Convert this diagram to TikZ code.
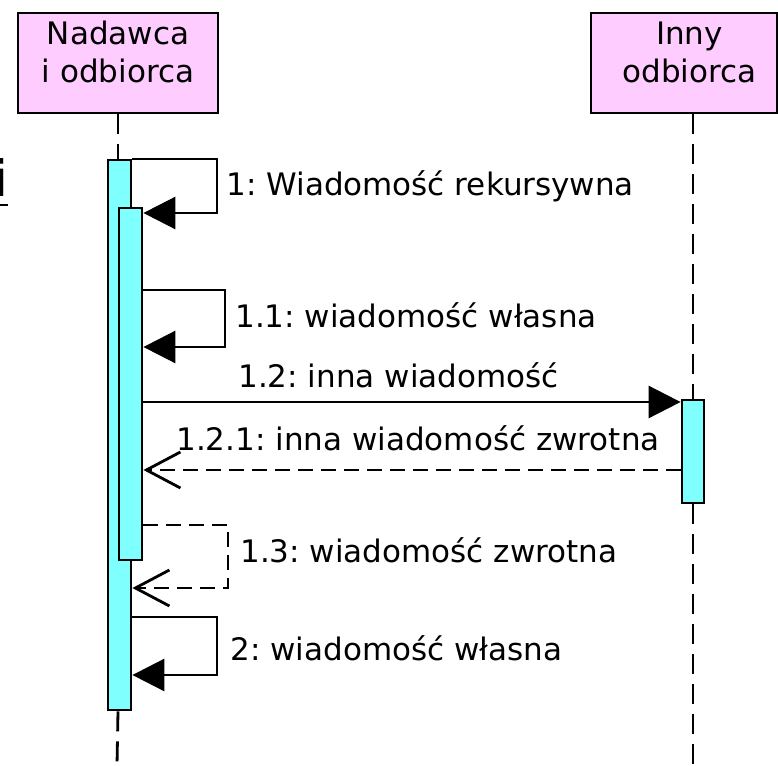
\documentclass[tikz,border=0pt]{standalone}
\usepackage{fontspec}
\setmainfont{DejaVu Sans}
\usetikzlibrary{arrows.meta}
\definecolor{headpink}{HTML}{FFCCFF}
\definecolor{actcyan}{HTML}{80FFFF}
\frenchspacing
\begin{document}
\begin{tikzpicture}[x=1pt,y=-1pt,
  line width=2.8pt,
  every node/.style={font=\fontsize{31}{38}\selectfont},
  headbox/.style={draw, fill=headpink, minimum width=200pt, minimum height=100pt, inner sep=0pt},
  headtext/.style={align=center, inner sep=0pt, anchor=base},
  lifeline/.style={dash pattern=on 20pt off 10pt},
  actbar/.style={draw, fill=actcyan, inner sep=0pt, minimum width=23pt},
  sync/.style={-{Triangle[length=32pt,width=32pt]}},
  reply/.style={dash pattern=on 15pt off 8pt, -{Straight Barb[length=34pt,width=36pt]}},
  msglabel/.style={anchor=base west, inner sep=0pt}]
\useasboundingbox (0,0) rectangle (778,765);
\clip (0,0) rectangle (778,765);

% fragment of a larger heading at the left edge
\node[anchor=base east, inner sep=0pt, font=\fontsize{50}{58}\selectfont] (frag) at (10,196) {i};
\draw[line width=2.8pt] (-10,205) -- (8,205);

% lifeline heads
\node[headbox] (hA) at (118,63) {};
\node[headtext] (hAt) at (118,83) {Nadawca\\i odbiorca};
\node[headbox, minimum width=186pt] (hB) at (684,63) {};
\node[headtext] (hBt) at (689.5,83) {Inny\\odbiorca};

\coordinate (endA) at (117,765);
\coordinate (endB) at (693,765);

% activation bars
\node[actbar, minimum height=550pt] (O) at (119.5,435) {};
\node[actbar, minimum width=22pt, minimum height=103pt] (R) at (693,451.5) {};

% lifelines
\draw[lifeline] (hA.south) -- (hA.south |- O.north);
\draw[lifeline] (O.south -| hA.south) -- (endA);
\draw[lifeline] (R.north |- hB.south) -- (R.north);
\draw[lifeline] (R.south) -- (endB);

% redraw bars above lifelines
\node[actbar, minimum height=550pt] at (O) {};
\node[actbar, minimum width=22pt, minimum height=103pt] at (R) {};
\node[actbar, minimum height=352pt] (I) at (130.5,384) {};

% messages
\draw[sync] (O.east |- 0,159) -| (217,213) -- (I.east |- 0,213);
\draw[sync] (I.east |- 0,290) -| (225,347) -- (I.east |- 0,347);
\draw[sync] (I.east |- 0,402) -- (R.west |- 0,402);
\draw[reply] (R.west |- 0,470) -- (I.east |- 0,470);
\draw[reply] (I.east |- 0,525) -| (228,588) -- (O.east |- 0,588);
\draw[sync] (O.east |- 0,617) -| (217,675) -- (O.east |- 0,675);

% message labels
\node[msglabel] (m1) at (225,195) {1: Wiadomość rekursywna};
\node[msglabel] (m11) at (234,327) {1.1: wiadomość własna};
\node[msglabel] (m12) at (237,387) {1.2: inna wiadomość};
\node[msglabel] (m121) at (175,450) {1.2.1: inna wiadomość zwrotna};
\node[msglabel] (m13) at (239,562) {1.3: wiadomość zwrotna};
\node[msglabel] (m2) at (229,660) {2: wiadomość własna};
\end{tikzpicture}
\end{document}
